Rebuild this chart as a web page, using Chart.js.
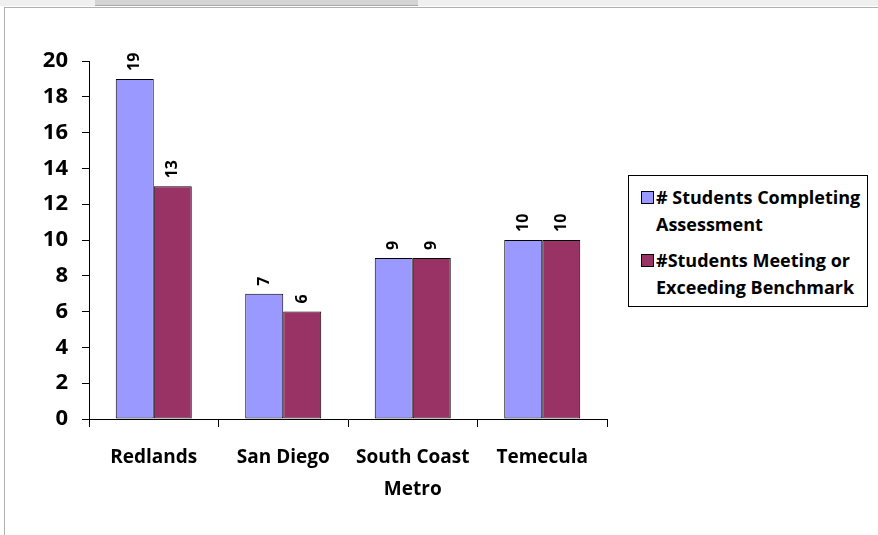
<!DOCTYPE html>
<html>
<head>
<meta charset="utf-8">
<script src="https://cdn.jsdelivr.net/npm/chart.js@4"></script>
<style>
  html, body { margin:0; padding:0; background:#fff; }
  #wrap { position:relative; width:878px; height:535px; overflow:hidden; font-family: "Open Sans", sans-serif; }
  #topstrip { position:absolute; left:0; top:0; width:878px; height:6px; background:#f0f0f0; }
  #topbar { position:absolute; left:95px; top:0; width:323px; height:5px; background:#d4d4d4; border-bottom:1px solid #a8a8a8; }
  #frame { position:absolute; left:4px; top:7px; width:900px; height:600px; border-left:1px solid #b0b0b0; border-top:1px solid #b0b0b0; }
  canvas { position:absolute; left:0; top:0; }
  #legend { position:absolute; left:628px; top:175px; width:238px; height:130px; border:1px solid #000; background:#fff; }
  .item { position:absolute; left:12px; font-weight:bold; font-size:18px; color:#000; line-height:27px; }
  .sw { position:absolute; left:0; top:7px; width:11px; height:11px; border:1px solid #000; }
  .txt { margin-left:15px; white-space:nowrap; }
</style>
</head>
<body>
<div id="wrap">
  <div id="topstrip"></div>
  <div id="topbar"></div>
  <div id="frame"></div>
  <canvas id="c" width="878" height="535"></canvas>
  <div id="legend"></div>
</div>
<script>
const categories = ["Redlands", "San Diego", ["South Coast", "Metro"], "Temecula"];
const completing = [19, 7, 9, 10];
const meeting = [13, 6, 9, 10];
const seriesNames = [["# Students Completing", "Assessment"], ["#Students Meeting or", "Exceeding Benchmark"]];
const seriesColors = ["#9999FF", "#993366"];
const yTicks = [0, 2, 4, 6, 8, 10, 12, 14, 16, 18, 20];

const FONT = '"Open Sans", sans-serif';

const valueLabels = {
  id: 'valueLabels',
  afterDatasetsDraw(chart) {
    const ctx = chart.ctx;
    ctx.save();
    ctx.font = 'bold 16px ' + FONT;
    ctx.fillStyle = '#000';
    ctx.textAlign = 'left';
    ctx.textBaseline = 'middle';
    chart.data.datasets.forEach((ds, di) => {
      const meta = chart.getDatasetMeta(di);
      meta.data.forEach((bar, i) => {
        ctx.save();
        ctx.translate(bar.x, bar.y - 8);
        ctx.rotate(-Math.PI / 2);
        ctx.fillText(String(ds.data[i]), 0, 0);
        ctx.restore();
      });
    });
    ctx.restore();
  }
};

const chart = new Chart(document.getElementById('c'), {
  type: 'bar',
  data: {
    labels: categories,
    datasets: [
      { label: seriesNames[0].join(' '), data: completing, backgroundColor: seriesColors[0], borderColor: '#000', borderWidth: 1, borderSkipped: false },
      { label: seriesNames[1].join(' '), data: meeting, backgroundColor: seriesColors[1], borderColor: '#000', borderWidth: 1, borderSkipped: false }
    ]
  },
  options: {
    responsive: false,
    animation: false,
    devicePixelRatio: 1,
    layout: { padding: { left: 0, right: 271, top: 61, bottom: 0 } },
    plugins: { legend: { display: false }, tooltip: { enabled: false } },
    datasets: { bar: { categoryPercentage: 0.587, barPercentage: 1.0 } },
    scales: {
      x: {
        grid: { offset: true, drawOnChartArea: false, drawTicks: true, tickLength: 8, color: '#000', lineWidth: 1 },
        border: { display: true, color: '#000', width: 1 },
        ticks: { color: '#000', padding: 15, maxRotation: 0, autoSkip: false,
                 font: { family: FONT, size: 19, weight: 'bold', lineHeight: 1.68 } },
        afterFit(scale) { scale.height = 116; }
      },
      y: {
        min: 0, max: 20,
        afterBuildTicks(scale) { scale.ticks = yTicks.map(v => ({ value: v })); },
        grid: { drawOnChartArea: false, drawTicks: true, tickLength: 7, color: '#000', lineWidth: 1 },
        border: { display: true, color: '#000', width: 1 },
        ticks: { color: '#000', padding: 14,
                 font: { family: FONT, size: 22, weight: 'bold' } },
        afterFit(scale) { scale.width = 89; }
      }
    }
  },
  plugins: [valueLabels]
});

// HTML legend built from the series arrays
const legend = document.getElementById('legend');
const tops = [8, 71];
seriesNames.forEach((lines, i) => {
  const it = document.createElement('div');
  it.className = 'item';
  it.style.top = tops[i] + 'px';
  const sw = document.createElement('div');
  sw.className = 'sw';
  sw.style.background = seriesColors[i];
  it.appendChild(sw);
  const t = document.createElement('div');
  t.className = 'txt';
  t.innerHTML = lines.join('<br>');
  it.appendChild(t);
  legend.appendChild(it);
});
</script>
</body>
</html>
